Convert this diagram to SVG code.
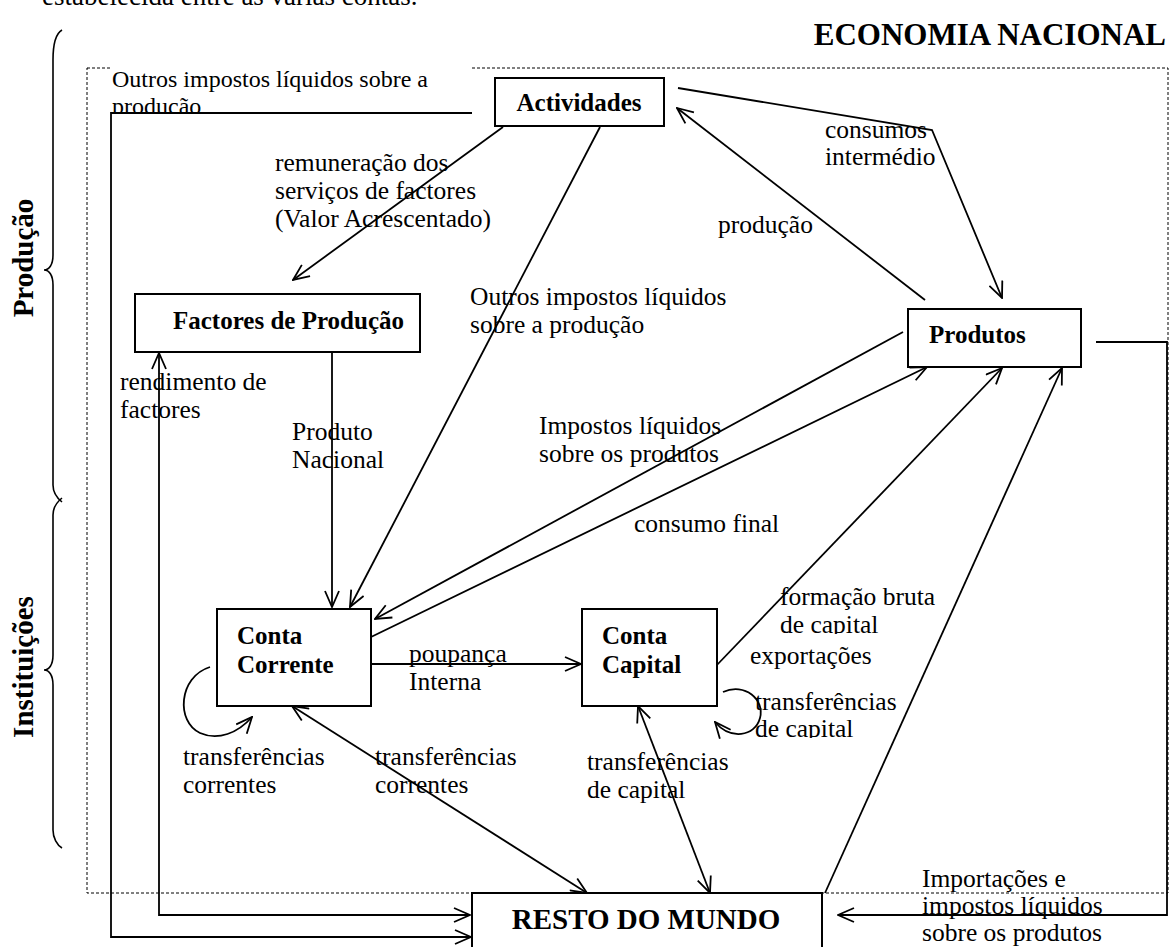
<svg xmlns="http://www.w3.org/2000/svg" width="1172" height="947" viewBox="0 0 1172 947">
<style>
.t{font-family:"Liberation Serif","Times New Roman",serif;font-size:25.5px;fill:#000}
.b{font-family:"Liberation Serif","Times New Roman",serif;font-weight:bold;font-size:25px;fill:#000}
.box{fill:#fff;stroke:#000;stroke-width:2}
.ln{fill:none;stroke:#000;stroke-width:1.8}
.dash{fill:none;stroke:#000;stroke-width:1;stroke-dasharray:3 2}
.br{fill:none;stroke:#000;stroke-width:1.6}
</style>
<defs>
<marker id="ah" viewBox="0 0 18 16" refX="17" refY="8" markerWidth="18" markerHeight="16" markerUnits="userSpaceOnUse" orient="auto-start-reverse">
<path d="M1,1 L17,8 L1,15" fill="none" stroke="#000" stroke-width="1.8"/>
</marker>
<clipPath id="c1"><rect x="110" y="66" width="362" height="46"/></clipPath>
<clipPath id="c2"><rect x="770" y="580" width="210" height="54"/></clipPath>
<clipPath id="c3"><rect x="745" y="688" width="210" height="50"/></clipPath>
</defs>
<rect width="1172" height="947" fill="#fff"/>
<text class="t" x="42" y="5" style="font-size:27px">estabelecida entre as várias contas.</text>
<text class="b" x="1166" y="45" text-anchor="end" style="font-size:31px">ECONOMIA NACIONAL</text>
<g id="frame">
<rect class="dash" x="87" y="68" width="1081" height="825"/>
</g>
<g id="braces">
<path class="br" d="M62,30 C55,34 53,45 53,60 L53,255 C53,265 49,270 44,270 C49,270 53,275 53,285 L53,485 C53,493 57,498 62,502"/>
<path class="br" d="M62,498 C57,502 53,507 53,515 L53,655 C53,665 49,670 44,670 C49,670 53,675 53,685 L53,830 C53,838 57,845 62,848"/>
<text class="b" style="font-size:29px" transform="translate(33,258) rotate(-90)" text-anchor="middle">Produção</text>
<text class="b" style="font-size:29px" transform="translate(33,667) rotate(-90)" text-anchor="middle">Instituições</text>
</g>
<g id="label-top">
<rect x="110" y="66" width="362" height="46" fill="#fff"/>
<g clip-path="url(#c1)">
<text class="t" x="112" y="87" style="font-size:24px">Outros impostos líquidos sobre a</text>
<text class="t" x="112" y="114" style="font-size:24px">produção</text>
</g>
</g>
<g id="connectors">
<path class="ln" d="M472,113 H111 V937 H471" marker-end="url(#ah)"/>
<path class="ln" d="M159,353 V915 H470" marker-start="url(#ah)" marker-end="url(#ah)"/>
<path class="ln" d="M503,127 L293,280" marker-end="url(#ah)"/>
<path class="ln" d="M600,127 L350,607" marker-end="url(#ah)"/>
<path class="ln" d="M332,352 V607" marker-end="url(#ah)"/>
<path class="ln" d="M678,88 L932,130 L1002,298" marker-end="url(#ah)"/>
<path class="ln" d="M925,300 L677,108" marker-end="url(#ah)"/>
<path class="ln" d="M903,332 L375,619" marker-end="url(#ah)"/>
<path class="ln" d="M371,637 L927,367" marker-end="url(#ah)"/>
<path class="ln" d="M371,664 H581" marker-end="url(#ah)"/>
<path class="ln" d="M715,667 L1002,368" marker-end="url(#ah)"/>
<path class="ln" d="M825,893 L1062,368" marker-end="url(#ah)"/>
<path class="ln" d="M292,706 L587,893" marker-start="url(#ah)" marker-end="url(#ah)"/>
<path class="ln" d="M638,706 L710,893" marker-start="url(#ah)" marker-end="url(#ah)"/>
<path class="ln" d="M210,667 C178,677 176,722 200,733 C218,741 238,733 252,717" marker-end="url(#ah)"/>
<path class="ln" d="M723,692 C745,682 765,700 760,718 C755,737 730,740 715,722" marker-end="url(#ah)"/>
<path class="ln" d="M1096,342 H1167 V915 H838" marker-end="url(#ah)"/>
</g>
<g id="actividades">
<rect class="box" x="495" y="78" width="169" height="48"/>
<text class="b" x="579" y="111" text-anchor="middle">Actividades</text>
</g>
<g id="factores">
<rect class="box" x="135" y="294" width="285" height="58"/>
<text class="b" x="173" y="329">Factores de Produção</text>
</g>
<g id="produtos">
<rect class="box" x="908" y="309" width="173" height="58"/>
<text class="b" x="929" y="343">Produtos</text>
</g>
<g id="conta-corrente">
<rect class="box" x="217" y="609" width="154" height="97"/>
<text class="b" x="237" y="644">Conta</text>
<text class="b" x="237" y="673">Corrente</text>
</g>
<g id="conta-capital">
<rect class="box" x="582" y="609" width="135" height="97"/>
<text class="b" x="602" y="644">Conta</text>
<text class="b" x="602" y="673">Capital</text>
</g>
<g id="resto-do-mundo">
<rect class="box" x="472" y="893" width="350" height="70"/>
<text class="b" x="646" y="929" text-anchor="middle" style="font-size:29px">RESTO DO MUNDO</text>
</g>
<g id="labels">
<text class="t" x="275" y="171">remuneração dos</text>
<text class="t" x="275" y="199">serviços de factores</text>
<text class="t" x="275" y="227">(Valor Acrescentado)</text>
<text class="t" x="825" y="138">consumos</text>
<text class="t" x="825" y="165">intermédio</text>
<text class="t" x="718" y="233">produção</text>
<text class="t" x="470" y="305">Outros impostos líquidos</text>
<text class="t" x="470" y="333">sobre a produção</text>
<text class="t" x="120" y="390">rendimento de</text>
<text class="t" x="120" y="418">factores</text>
<text class="t" x="292" y="440">Produto</text>
<text class="t" x="292" y="468">Nacional</text>
<text class="t" x="539" y="434">Impostos líquidos</text>
<text class="t" x="539" y="462">sobre os produtos</text>
<text class="t" x="634" y="532">consumo final</text>
<g clip-path="url(#c2)">
<text class="t" x="780" y="605">formação bruta</text>
<text class="t" x="780" y="633">de capital</text>
</g>
<text class="t" x="409" y="662">poupança</text>
<text class="t" x="409" y="690">Interna</text>
<text class="t" x="750" y="664">exportações</text>
<g clip-path="url(#c3)">
<text class="t" x="755" y="710">transferências</text>
<text class="t" x="755" y="737">de capital</text>
</g>
<text class="t" x="183" y="765">transferências</text>
<text class="t" x="183" y="793">correntes</text>
<text class="t" x="375" y="765">transferências</text>
<text class="t" x="375" y="793">correntes</text>
<text class="t" x="587" y="770">transferências</text>
<text class="t" x="587" y="798">de capital</text>
<text class="t" x="922" y="887">Importações e</text>
<text class="t" x="922" y="914">impostos líquidos</text>
<text class="t" x="922" y="941">sobre os produtos</text>
</g>
</svg>
